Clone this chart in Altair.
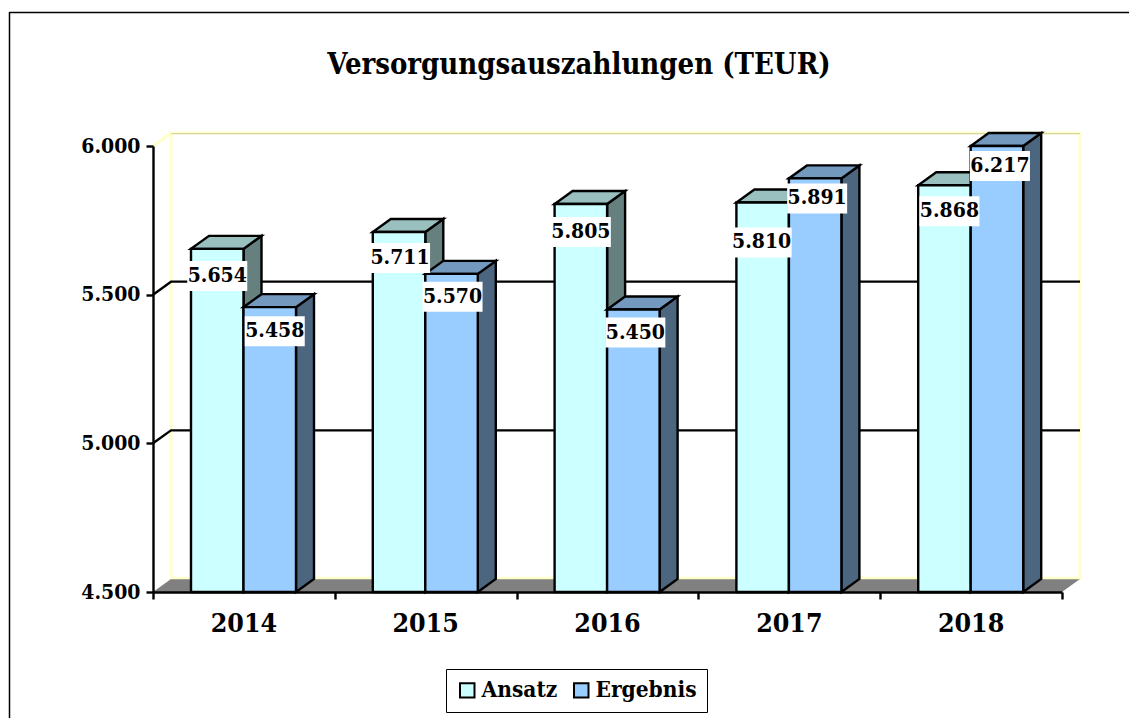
import altair as alt
import pandas as pd

years = ["2014", "2015", "2016", "2017", "2018"]
ansatz = [5654, 5711, 5805, 5810, 5868]
ergebnis = [5458, 5570, 5450, 5891, 6217]
series_names = ["Ansatz", "Ergebnis"]
front_colors = ["#CCFFFF", "#99CCFF"]
top_colors = ["#99BFBF", "#7399BF"]
side_colors = ["#668080", "#4D6680"]
y_ticks = [4500, 5000, 5500, 6000]
grid_levels = [5000, 5500]

# label placement (pixels): drop below bar top, shift from bar centre
label_drop = [[27, 26, 28, 40, 26], [24, 23, 23, 20, 20]]
label_shift = [[0, 1, 0, -1, 5], [5, 1, 2, 2, 3]]

FONT = "DejaVu Serif Condensed"
W, H = 909, 446
PXX = W / 5
PXY = H / 1500
LOW, HIGH = 4500, 6000
DX = 18 / PXX
DY = 13 / PXY
BW = 52.5 / PXX
GAP = 38 / PXX
LINE = 2.4
BOTTOM = 126

xs = alt.Scale(domain=[0, 5], nice=False, zero=False)
ys = alt.Scale(domain=[LOW, HIGH], nice=False, zero=False)
X = lambda f="x": alt.X(f"{f}:Q", scale=xs, axis=None)
Y = lambda f="y": alt.Y(f"{f}:Q", scale=ys, axis=None)


def hface(rows, fill, stroke=None, sw=0):
    kw = dict(stroke=stroke, strokeWidth=sw) if stroke else {}
    return alt.Chart(pd.DataFrame(rows, columns=["id", "y", "x", "x2"])).mark_area(
        orient="horizontal", fill=fill, opacity=1, strokeJoin="miter", **kw
    ).encode(y=Y(), x=X(), x2="x2:Q", detail="id:N")


layers = []

# back wall
wall = pd.DataFrame([{"x": DX, "x2": 5 + DX, "y": LOW + DY, "y2": HIGH + DY}])
layers.append(alt.Chart(wall).mark_rect(fill="#FFFFFF", stroke="#FFFFCC", strokeWidth=3).encode(
    x=X(), x2="x2:Q", y=Y(), y2="y2:Q"))
top_edge = pd.DataFrame([{"x": DX, "x2": 5 + DX, "y": HIGH + DY}])
layers.append(alt.Chart(top_edge).mark_rule(stroke="#C9C99A", strokeWidth=1, yOffset=0.7).encode(
    x=X(), x2="x2:Q", y=Y()))
edge_rows = [{"x": 0, "y": HIGH}, {"x": DX, "y": HIGH + DY}]
layers.append(alt.Chart(pd.DataFrame(edge_rows)).mark_line(stroke="#FFFFCC", strokeWidth=3).encode(x=X(), y=Y()))

# floor
layers.append(hface([["floor", LOW, 0, 5], ["floor", LOW + DY, DX, 5 + DX]], "#808080"))
floor_edge = pd.DataFrame([{"x": DX, "x2": 5 + DX, "y": LOW + DY}])
layers.append(alt.Chart(floor_edge).mark_rule(stroke="#FFFFCC", strokeWidth=2.5, yOffset=-1).encode(
    x=X(), x2="x2:Q", y=Y()))

# gridlines on the wall and side
grid_rows = []
for lv in grid_levels:
    grid_rows += [{"lv": lv, "o": 0, "x": 0, "y": lv},
                  {"lv": lv, "o": 1, "x": DX, "y": lv + DY},
                  {"lv": lv, "o": 2, "x": 5 + DX, "y": lv + DY}]
layers.append(alt.Chart(pd.DataFrame(grid_rows)).mark_line(stroke="#000000", strokeWidth=LINE).encode(
    x=X(), y=Y(), detail="lv:N", order="o:Q"))

# axes
axis_df = pd.DataFrame([{"x": 0, "y": LOW}])
layers.append(alt.Chart(axis_df).mark_point(opacity=0).encode(
    x=alt.X("x:Q", scale=xs, title=None, axis=alt.Axis(
        values=list(range(6)), labels=False, grid=False, tickSize=7, tickWidth=LINE,
        tickColor="#000000", domainColor="#000000", domainWidth=LINE, zindex=1)),
    y=alt.Y("y:Q", scale=ys, title=None, axis=alt.Axis(
        values=y_ticks, grid=False, tickSize=7, tickWidth=LINE, tickColor="#000000",
        domainColor="#000000", domainWidth=LINE, zindex=1, labelPadding=6,
        labelFont=FONT, labelFontWeight="bold", labelFontSize=21, labelColor="#000000",
        labelExpr="replace(format(datum.value, ',d'), ',', '.')")),
))

# 3D bars
label_rows = []
for s, vals in enumerate([ansatz, ergebnis]):
    side_rows, top_rows, front_rows = [], [], []
    for i, v in enumerate(vals):
        t = min(v, HIGH)
        x0 = i + GAP + s * BW
        x1 = x0 + BW
        side_rows += [{"id": i, "x": x1, "y": LOW, "y2": t},
                      {"id": i, "x": x1 + DX, "y": LOW + DY, "y2": t + DY}]
        top_rows += [[i, t, x0, x1], [i, t + DY, x0 + DX, x1 + DX]]
        front_rows.append({"series": series_names[s], "x": x0, "x2": x1, "y": LOW, "y2": t})
        cx = x0 + BW / 2 + label_shift[s][i] / PXX
        cy = t - label_drop[s][i] / PXY
        label_rows.append({"label": f"{v:,}".replace(",", "."), "x": cx, "y": cy,
                           "bx": cx - 30 / PXX, "bx2": cx + 30 / PXX,
                           "by": cy - 15 / PXY, "by2": cy + 15 / PXY})
    layers.append(alt.Chart(pd.DataFrame(side_rows)).mark_area(
        orient="vertical", fill=side_colors[s], stroke="#000000", strokeWidth=LINE, opacity=1
    ).encode(x=X(), y=Y(), y2="y2:Q", detail="id:N"))
    layers.append(hface(top_rows, top_colors[s], "#000000", LINE))
    layers.append(alt.Chart(pd.DataFrame(front_rows)).mark_rect(stroke="#000000", strokeWidth=LINE).encode(
        x=X(), x2="x2:Q", y=Y(), y2="y2:Q",
        fill=alt.Fill("series:N", scale=alt.Scale(domain=series_names, range=front_colors),
                      legend=alt.Legend(
                          title=None, orient="none", legendX=293, legendY=523, direction="horizontal",
                          columns=2, columnPadding=12, padding=10, strokeColor="#000000",
                          fillColor="#FFFFFF", symbolType="square", symbolSize=210,
                          symbolStrokeColor="#000000", symbolStrokeWidth=2, symbolOpacity=1,
                          labelFont=FONT, labelFontWeight="bold", labelFontSize=22.5,
                          labelColor="#000000", labelOffset=3, labelLimit=200))))

labels = pd.DataFrame(label_rows)
layers.append(alt.Chart(labels).mark_rect(fill="#FFFFFF").encode(x=X("bx"), x2="bx2:Q", y=Y("by"), y2="by2:Q"))
layers.append(alt.Chart(labels).mark_text(
    font=FONT, fontWeight="bold", fontSize=21, color="#000000", baseline="middle", align="center"
).encode(x=X(), y=Y(), text="label:N"))

# category labels
cat_df = pd.DataFrame({"year": years, "x": [i + 0.5 for i in range(5)]})
layers.append(alt.Chart(cat_df).mark_text(
    font=FONT, fontWeight="bold", fontSize=26.5, color="#000000", baseline="middle", align="center"
).encode(x=X(), y=alt.value(H + 32), text="year:N"))

# chart title
layers.append(alt.Chart(pd.DataFrame({"t": ["Versorgungsauszahlungen (TEUR)"]})).mark_text(
    font=FONT, fontWeight="bold", fontSize=29, color="#000000", baseline="alphabetic", align="center"
).encode(x=alt.value(426), y=alt.value(-72), text="t:N"))

# outer frame, open to the right and bottom like the cropped original
layers.append(alt.Chart(pd.DataFrame([{"k": 1}])).mark_rule(stroke="#000000", strokeWidth=1.5).encode(
    x=alt.value(-143.5), y=alt.value(-134), y2=alt.value(H + BOTTOM)))
layers.append(alt.Chart(pd.DataFrame([{"k": 1}])).mark_rule(stroke="#000000", strokeWidth=1.5).encode(
    x=alt.value(-143.5), x2=alt.value(W + 67), y=alt.value(-133.5)))

chart = alt.layer(*layers).resolve_axis(x="independent", y="independent").properties(
    width=W, height=H,
    autosize=alt.AutoSizeParams(type="none"),
    padding={"left": 145, "top": 138, "right": 67, "bottom": BOTTOM},
).configure_view(stroke=None)

chart.save("out.html", embed_options={"renderer": "svg", "actions": False})
